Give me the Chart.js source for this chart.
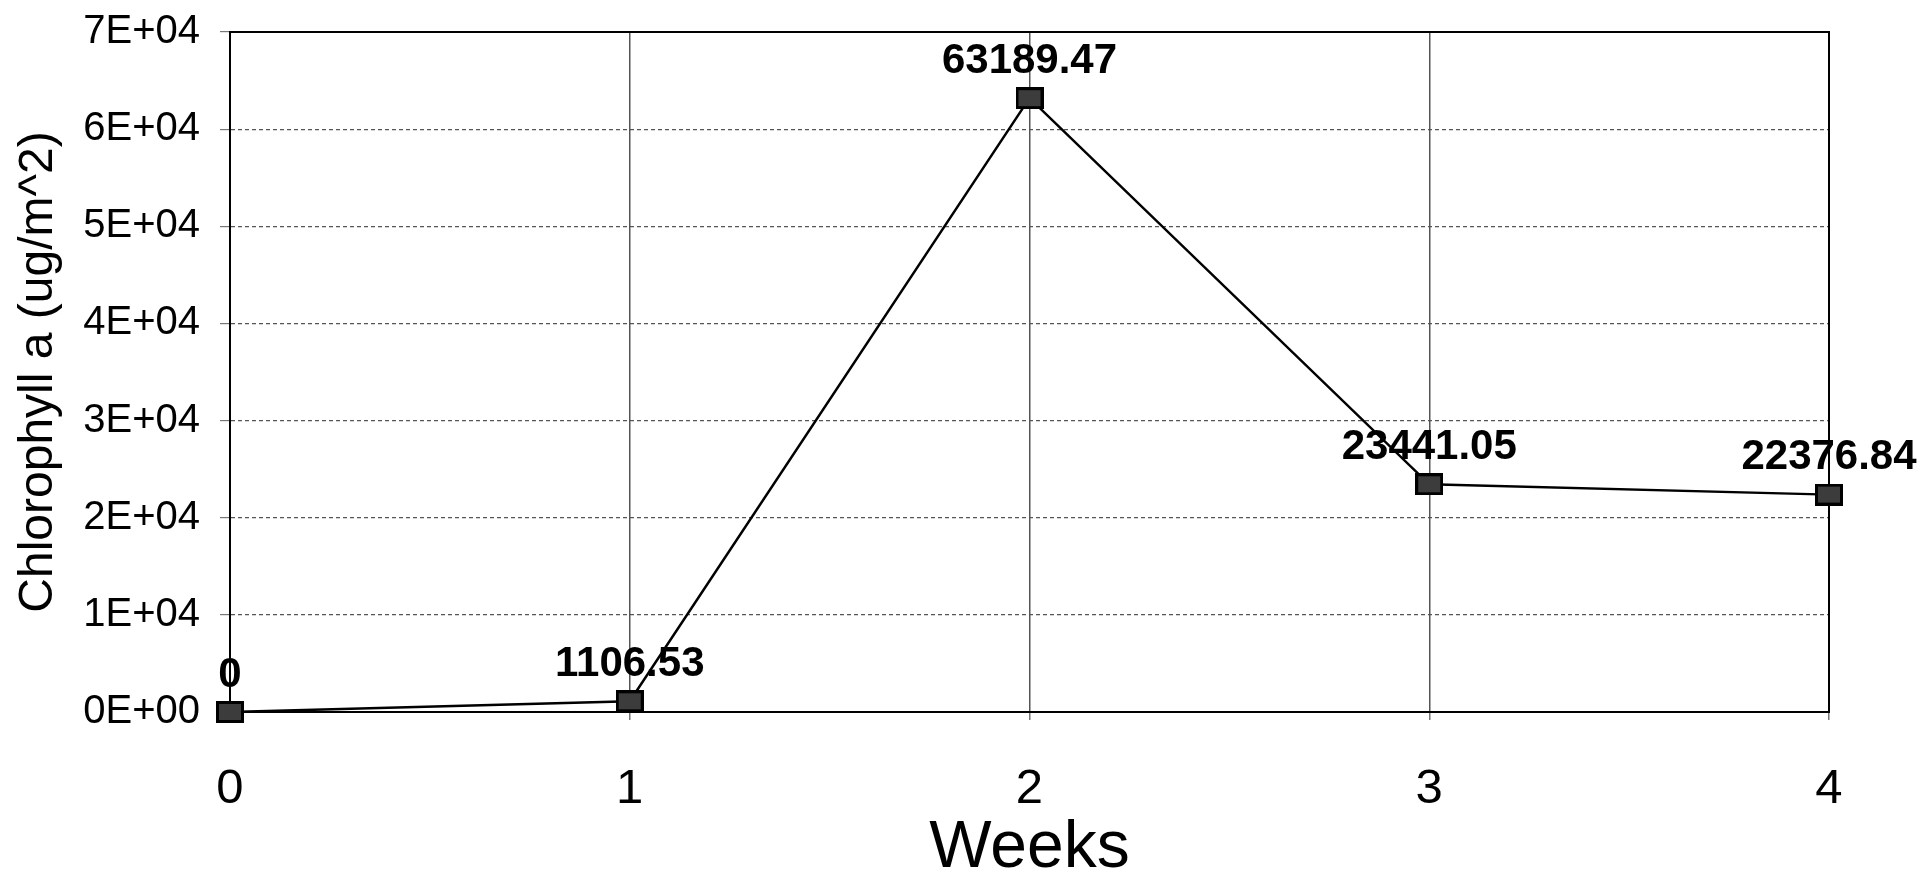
<!DOCTYPE html>
<html>
<head>
<meta charset="utf-8">
<script src="https://cdn.jsdelivr.net/npm/chart.js@4"></script>
<style>
  html, body { margin: 0; padding: 0; background: #fff; overflow: hidden; }
</style>
</head>
<body>
<canvas id="chloro" width="1925" height="878"></canvas>
<script>
// data
const weeks = [0, 1, 2, 3, 4];
const chlorophyll = [0, 1106.53, 63189.47, 23441.05, 22376.84];
const yTicks = [0, 10000, 20000, 30000, 40000, 50000, 60000, 70000];

function sciLabel(v) {
    if (v === 0) return '0E+00';
    let exp = Math.floor(Math.log10(Math.abs(v)));
    let mant = Math.round(v / Math.pow(10, exp));
    let e = String(Math.abs(exp)).padStart(2, '0');
    return mant + 'E' + (exp < 0 ? '-' : '+') + e;
}

// square-ish dark marker like the excel one
function makeMarker() {
    const c = document.createElement('canvas');
    c.width = 28;
    c.height = 22;
    const g = c.getContext('2d');
    g.fillStyle = '#000';
    g.fillRect(0, 0, 28, 22);
    g.fillStyle = '#3c3c3c';
    g.fillRect(3, 3, 22, 16);
    return c;
}

const pointLabels = {
    id: 'point_labels',
    afterDatasetsDraw: (chart) => {
        const ctx = chart.ctx;
        const meta = chart.getDatasetMeta(0);
        ctx.save();
        ctx.font = 'bold 42px "Liberation Sans", Arial, sans-serif';
        ctx.fillStyle = '#000';
        ctx.textAlign = 'center';
        ctx.textBaseline = 'middle';
        meta.data.forEach((pt, i) => {
            ctx.fillText(String(chlorophyll[i]), pt.x, pt.y - 37);
        });
        ctx.restore();
    }
};

const frame = {
    id: 'plot_frame',
    beforeDatasetsDraw: (chart) => {
        const a = chart.chartArea;
        const ctx = chart.ctx;
        ctx.save();
        ctx.strokeStyle = '#000';
        ctx.lineWidth = 2;
        ctx.strokeRect(a.left, a.top, a.right - a.left, a.bottom - a.top);
        ctx.restore();
    }
};

const data = {
    datasets: [{
        label: 'Chlorophyll a',
        data: weeks.map((w, i) => ({x: w, y: chlorophyll[i]})),
        borderColor: '#000',
        borderWidth: 2.5,
        pointStyle: makeMarker(),
        pointRadius: 14,
        tension: 0,
        clip: false
    }]
};

const config = {
    type: 'line',
    data: data,
    plugins: [frame, pointLabels],
    options: {
        responsive: false,
        animation: false,
        devicePixelRatio: 1,
        layout: { padding: { top: 32, right: 96, bottom: 0, left: 0 } },
        plugins: { legend: { display: false }, tooltip: { enabled: false } },
        scales: {
            x: {
                type: 'linear',
                min: 0,
                max: 4,
                afterBuildTicks: (scale) => { scale.ticks = weeks.map(w => ({value: w})); },
                afterFit: (scale) => { scale.height = 166; scale.paddingLeft = 0; scale.paddingRight = 0; },
                ticks: {
                    color: '#000',
                    padding: 40,
                    font: { family: '"Liberation Sans", Arial, sans-serif', size: 49 }
                },
                grid: { color: '#555', lineWidth: 1.5, tickLength: 8, tickColor: '#777' },
                border: { color: '#000', width: 2 },
                title: {
                    display: true,
                    text: 'Weeks',
                    color: '#000',
                    padding: { top: 0, bottom: 0 },
                    font: { family: '"Liberation Sans", Arial, sans-serif', size: 66, lineHeight: 0.9 }
                }
            },
            y: {
                min: 0,
                max: 70000,
                afterBuildTicks: (scale) => { scale.ticks = yTicks.map(v => ({value: v})); },
                afterFit: (scale) => { scale.width = 230; scale.paddingTop = 0; scale.paddingBottom = 0; },
                ticks: {
                    color: '#000',
                    padding: 20,
                    callback: (v) => sciLabel(v),
                    font: { family: '"Liberation Sans", Arial, sans-serif', size: 40 }
                },
                grid: { color: '#555', lineWidth: 1.2, tickLength: 10, tickColor: '#777' },
                border: { color: '#000', width: 2, dash: [4, 3] },
                title: {
                    display: true,
                    text: 'Chlorophyll a (ug/m^2)',
                    color: '#000',
                    padding: { top: 10, bottom: 0 },
                    font: { family: '"Liberation Sans", Arial, sans-serif', size: 48 }
                }
            }
        }
    }
};

var myChart = new Chart(document.getElementById('chloro'), config);
</script>
</body>
</html>
